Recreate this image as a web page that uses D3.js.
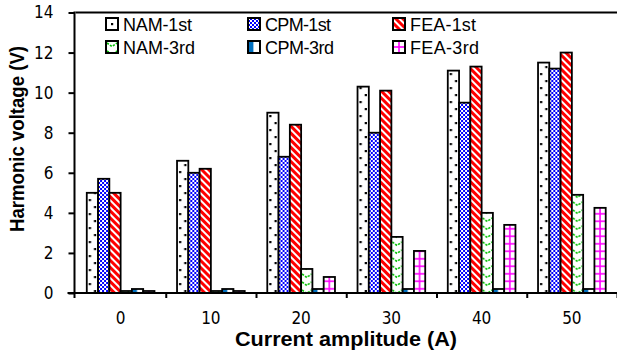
<!DOCTYPE html>
<html>
<head>
<meta charset="utf-8">
<script src="https://cdn.jsdelivr.net/npm/d3@7"></script>
<style>
  html, body { margin: 0; padding: 0; background: #fff; }
  svg { display: block; }
  .tick text { font-family: "Liberation Sans Narrow", "Arial Narrow", "DejaVu Sans Condensed", "Liberation Sans", sans-serif; fill: #000; }
</style>
</head>
<body>
<svg id="chart" width="617" height="358"></svg>
<script>
// Categories (current amplitude, A) and harmonic voltages (V) per series
const categories = ["0", "10", "20", "30", "40", "50"];
const seriesNames = ["NAM-1st", "CPM-1st", "FEA-1st", "NAM-3rd", "CPM-3rd", "FEA-3rd"];
const nam1st = [5.0, 6.6, 9.0, 10.3, 11.1, 11.5];
const cpm1st = [5.7, 6.0, 6.8, 8.0, 9.5, 11.2];
const fea1st = [5.0, 6.2, 8.4, 10.1, 11.3, 12.0];
const nam3rd = [0.1, 0.1, 1.2, 2.8, 4.0, 4.9];
const cpm3rd = [0.2, 0.2, 0.2, 0.2, 0.2, 0.2];
const fea3rd = [0.1, 0.1, 0.8, 2.1, 3.4, 4.25];
const yTicks = [0, 2, 4, 6, 8, 10, 12, 14];

const seriesValues = [nam1st, cpm1st, fea1st, nam3rd, cpm3rd, fea3rd];
const seriesKeys = ["nam1", "cpm1", "fea1", "nam3", "cpm3", "fea3"];

const svg = d3.select("#chart");
const plotLeft = 75.5, plotRight = 617, plotTop = 12.5, plotBottom = 293;

const y = d3.scaleLinear().domain([0, 14]).range([plotBottom, plotTop]);
const x0 = d3.scaleBand().domain(categories).range([plotLeft, plotRight]).padding(0);
const bw = x0.bandwidth();
const x1 = d3.scaleBand().domain(seriesNames).range([bw * 0.125, bw * 0.875]).padding(0);
const barW = x1.bandwidth();

// ---- fill patterns (user space, aligned to each bar's left edge) ----
const defs = svg.append("defs");

function pat(id, w, h, transform) {
  const p = defs.append("pattern").attr("id", id)
    .attr("patternUnits", "userSpaceOnUse")
    .attr("width", w).attr("height", h);
  if (transform) p.attr("patternTransform", transform);
  return p;
}

// NAM-1st: white with staggered black dots
function dots(id, w, pts) {
  const p = pat(id, w, 14);
  p.append("rect").attr("width", w).attr("height", 14).attr("fill", "#fff");
  pts.forEach(d => p.append("rect").attr("x", d[0]).attr("y", d[1]).attr("width", 2.2).attr("height", 2.2).attr("fill", "#000"));
}
dots("p-nam1", barW, [[2, 3], [7.2, 10]]);

// CPM-1st: fine blue/white checkerboard
{
  const p = pat("p-cpm1", 4, 4);
  p.append("rect").attr("width", 4).attr("height", 4).attr("fill", "#0000ff");
  p.append("rect").attr("x", 0).attr("y", 0).attr("width", 2).attr("height", 2).attr("fill", "#fff");
  p.append("rect").attr("x", 2).attr("y", 2).attr("width", 2).attr("height", 2).attr("fill", "#fff");
}

// FEA-1st: wide red diagonal stripes
{
  const p = pat("p-fea1", 5, 5, "rotate(-45)");
  p.append("rect").attr("width", 5).attr("height", 5).attr("fill", "#fff");
  p.append("rect").attr("width", 3).attr("height", 5).attr("fill", "#ff0000");
}

// NAM-3rd: dashed green chevrons
function chevrons(id, w) {
  const p = pat(id, w, 8);
  p.append("rect").attr("width", w).attr("height", 8).attr("fill", "#fff");
  p.append("path").attr("d", `M1,2 L${w / 2},5.5 L${w - 1},2`)
    .attr("fill", "none").attr("stroke", "#00c000").attr("stroke-width", 1.6)
    .attr("stroke-dasharray", "2.2,1.4");
}
chevrons("p-nam3", barW);

// CPM-3rd: left half blue
function halfBlue(id, w) {
  const p = pat(id, w, 10);
  p.append("rect").attr("width", w).attr("height", 10).attr("fill", "#fff");
  p.append("rect").attr("width", w * 0.45).attr("height", 10).attr("fill", "#0070c0");
}
halfBlue("p-cpm3", barW);

// FEA-3rd: magenta grid
function grid(id, w, h, yOff) {
  const p = pat(id, w, h);
  p.append("rect").attr("width", w).attr("height", h).attr("fill", "#fff");
  p.append("rect").attr("x", w / 2 - 0.8).attr("y", 0).attr("width", 1.6).attr("height", h).attr("fill", "#ff00ff");
  p.append("rect").attr("x", 0).attr("y", yOff).attr("width", w).attr("height", 1.6).attr("fill", "#ff00ff");
}
grid("p-fea3", barW, 7.5, 3);

// legend variants
dots("l-nam1", 12, [[5, 5]]);
chevrons("l-nam3", 12);
halfBlue("l-cpm3", 12);
grid("l-fea3", 12, 12, 5.2);

// ---- plot frame ----
svg.append("line").attr("x1", plotLeft).attr("x2", plotRight).attr("y1", plotTop).attr("y2", plotTop)
  .attr("stroke", "#000").attr("stroke-width", 2);

// ---- bars ----
const groups = svg.append("g").selectAll("g.cat")
  .data(categories)
  .join("g").attr("class", "cat");

groups.each(function (cat, ci) {
  const g = d3.select(this);
  seriesNames.forEach((s, si) => {
    const v = seriesValues[si][ci];
    g.append("g")
      .attr("transform", `translate(${x0(cat) + x1(s)},0)`)
      .append("rect")
      .attr("x", 0)
      .attr("y", y(v))
      .attr("width", barW)
      .attr("height", y(0) - y(v))
      .attr("fill", `url(#p-${seriesKeys[si]})`)
      .attr("stroke", "#000")
      .attr("stroke-width", 1.8);
  });
});

// ---- y axis ----
const yAxis = svg.append("g")
  .attr("transform", `translate(${plotLeft - 1},0)`)
  .call(d3.axisLeft(y).tickValues(yTicks).tickSize(6).tickPadding(15));
yAxis.select(".domain").remove();
yAxis.selectAll(".tick line").attr("stroke", "#000").attr("stroke-width", 2);
yAxis.selectAll(".tick text").attr("font-size", 17);
svg.append("line").attr("x1", plotLeft - 1).attr("x2", plotLeft - 1).attr("y1", plotTop - 1).attr("y2", plotBottom + 5)
  .attr("stroke", "#000").attr("stroke-width", 2);

// ---- x axis: boundary ticks and centred labels ----
const xb = d3.scaleLinear().domain([0, categories.length]).range([plotLeft, plotRight]);
const xTicks = svg.append("g")
  .attr("transform", `translate(0,${plotBottom})`)
  .call(d3.axisBottom(xb).tickValues(d3.range(1, categories.length + 1)).tickSize(5).tickFormat(""));
xTicks.select(".domain").remove();
xTicks.selectAll(".tick line").attr("stroke", "#000").attr("stroke-width", 2);

const xLabels = svg.append("g")
  .attr("transform", `translate(0,${plotBottom})`)
  .call(d3.axisBottom(x0).tickSize(0).tickPadding(19));
xLabels.select(".domain").remove();
xLabels.selectAll(".tick text").attr("font-size", 17);

svg.append("line").attr("x1", plotLeft - 8).attr("x2", plotRight).attr("y1", plotBottom).attr("y2", plotBottom)
  .attr("stroke", "#000").attr("stroke-width", 2);

// ---- axis titles ----
svg.append("text")
  .attr("x", 346).attr("y", 346)
  .attr("text-anchor", "middle")
  .attr("font-family", "Liberation Sans, Arial, sans-serif")
  .attr("font-weight", "bold").attr("font-size", 20)
  .attr("textLength", 222).attr("lengthAdjust", "spacingAndGlyphs")
  .text("Current amplitude (A)");

svg.append("text")
  .attr("transform", "translate(24,139) rotate(-90)")
  .attr("text-anchor", "middle")
  .attr("font-family", "Liberation Sans, Arial, sans-serif")
  .attr("font-weight", "bold").attr("font-size", 20)
  .attr("textLength", 186).attr("lengthAdjust", "spacingAndGlyphs")
  .text("Harmonic voltage (V)");

// ---- legend ----
const legendX = [106, 248, 393];
const legendY = [18, 41];
const legendTextW = [69, 66, 66, 72, 69, 69];
const legendFill = ["l-nam1", "p-cpm1", "p-fea1", "l-nam3", "l-cpm3", "l-fea3"];
const legend = svg.append("g").selectAll("g.leg")
  .data(seriesNames)
  .join("g").attr("class", "leg")
  .attr("transform", (d, i) => `translate(${legendX[i % 3]},${legendY[Math.floor(i / 3)]})`);
legend.append("rect")
  .attr("width", 12).attr("height", 12)
  .attr("fill", (d, i) => `url(#${legendFill[i]})`)
  .attr("stroke", "#000").attr("stroke-width", 2);
legend.append("text")
  .attr("x", 17).attr("y", 12.8)
  .attr("font-family", "Liberation Sans, Arial, sans-serif")
  .attr("font-size", 18)
  .attr("textLength", (d, i) => legendTextW[i]).attr("lengthAdjust", "spacing")
  .text(d => d);
</script>
</body>
</html>
